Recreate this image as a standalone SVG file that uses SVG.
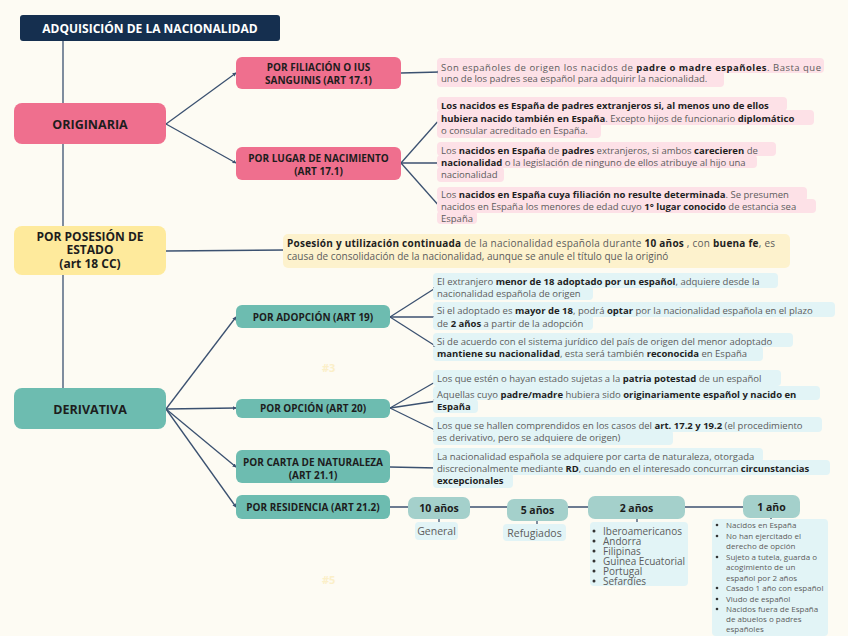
<svg xmlns="http://www.w3.org/2000/svg" width="848" height="636" viewBox="0 0 848 636">
<defs>
<style>
.t{font-family:"Open Sans","Noto Sans",sans-serif}
.conn line,.conn polyline{stroke:#3b5170;stroke-width:1.3;fill:none}
.nt{font-weight:bold;fill:#1d1d1d;text-anchor:middle;font-family:"Open Sans","Noto Sans",sans-serif}
.p{font-family:"Open Sans","Noto Sans",sans-serif;font-size:9.5px;fill:#5c5c5c}
.b{font-weight:bold;fill:#1f1f1f}
.hp{fill:#fde1e7}
.hy{fill:#fdf2cd}
.hb{fill:#e2f4f6}
.pink{fill:#ef6f8e}
.yel{fill:#feea9c}
.teal{fill:#6dbcb0}
.lt{fill:#a4d0cb}
.faint{font-family:"Open Sans",sans-serif;font-size:11px;font-weight:bold;fill:#fbefc8}
</style>
<marker id="ar" viewBox="0 0 6 6" refX="5" refY="3" markerWidth="4" markerHeight="4" markerUnits="userSpaceOnUse" orient="auto">
<path d="M0,0 L6,3 L0,6 z" fill="#3b5170"/>
</marker>
</defs>
<rect width="848" height="636" fill="#fdfbf3"/>

<g class="conn">
<line x1="63" y1="41" x2="63" y2="388"/>
<line x1="166" y1="124" x2="236" y2="73" marker-end="url(#ar)"/>
<line x1="166" y1="124" x2="236" y2="163" marker-end="url(#ar)"/>
<line x1="401" y1="73" x2="440" y2="72" marker-end="url(#ar)"/>
<line x1="401" y1="163" x2="440" y2="119" marker-end="url(#ar)"/>
<line x1="401" y1="163" x2="440" y2="163" marker-end="url(#ar)"/>
<line x1="401" y1="163" x2="440" y2="207" marker-end="url(#ar)"/>
<line x1="166" y1="251" x2="286" y2="250" marker-end="url(#ar)"/>
<line x1="166" y1="409" x2="236" y2="317" marker-end="url(#ar)"/>
<line x1="166" y1="409" x2="236" y2="408" marker-end="url(#ar)"/>
<line x1="166" y1="409" x2="236" y2="467" marker-end="url(#ar)"/>
<line x1="166" y1="409" x2="236" y2="507" marker-end="url(#ar)"/>
<line x1="390" y1="317" x2="437" y2="287" marker-end="url(#ar)"/>
<line x1="390" y1="317" x2="437" y2="317" marker-end="url(#ar)"/>
<line x1="390" y1="317" x2="437" y2="347" marker-end="url(#ar)"/>
<line x1="390" y1="408" x2="437" y2="381" marker-end="url(#ar)"/>
<line x1="390" y1="408" x2="437" y2="401" marker-end="url(#ar)"/>
<line x1="390" y1="408" x2="437" y2="431" marker-end="url(#ar)"/>
<line x1="390" y1="467" x2="437" y2="468" marker-end="url(#ar)"/>
<polyline points="390,507 743,507"/>
<line x1="439" y1="519" x2="439" y2="523"/>
<line x1="537" y1="521" x2="537" y2="527" marker-end="url(#ar)"/>
<line x1="637" y1="519" x2="637" y2="523"/>
<line x1="771" y1="518" x2="771" y2="521"/>
</g>

<g id="title">
<rect x="20" y="15" width="260" height="26" rx="3" fill="#152f4f"/>
<text x="150" y="32.5" class="nt" font-size="12" style="fill:#ffffff">ADQUISICIÓN DE LA NACIONALIDAD</text>
</g>

<g id="originaria">
<rect x="14" y="103" width="152" height="41" rx="8" class="pink"/>
<text x="90" y="128.5" class="nt" font-size="12.5">ORIGINARIA</text>
</g>
<g id="filiacion">
<rect x="236" y="57" width="165" height="32" rx="6" class="pink"/>
<text x="318.5" y="71" class="nt" font-size="10">POR FILIACIÓN O IUS</text>
<text x="318.5" y="84" class="nt" font-size="10">SANGUINIS (ART 17.1)</text>
</g>
<g id="lugar">
<rect x="236" y="147" width="165" height="33" rx="6" class="pink"/>
<text x="318.5" y="161.5" class="nt" font-size="10">POR LUGAR DE NACIMIENTO</text>
<text x="318.5" y="174.5" class="nt" font-size="10">(ART 17.1)</text>
</g>
<g id="posesion">
<rect x="14" y="226" width="152" height="49" rx="8" class="yel"/>
<text x="90" y="240.5" class="nt" font-size="12">POR POSESIÓN DE</text>
<text x="90" y="253.5" class="nt" font-size="12">ESTADO</text>
<text x="90" y="267.5" class="nt" font-size="12">(art 18 CC)</text>
</g>
<g id="derivativa">
<rect x="14" y="388" width="152" height="41" rx="8" class="teal"/>
<text x="90" y="413.5" class="nt" font-size="12.5">DERIVATIVA</text>
</g>
<g id="adopcion">
<rect x="236" y="305" width="154" height="23" rx="6" class="teal"/>
<text x="313" y="320.5" class="nt" font-size="10">POR ADOPCIÓN (ART 19)</text>
</g>
<g id="opcion">
<rect x="236" y="399" width="154" height="19" rx="6" class="teal"/>
<text x="313" y="412" class="nt" font-size="10">POR OPCIÓN (ART 20)</text>
</g>
<g id="carta">
<rect x="236" y="450" width="154" height="33" rx="6" class="teal"/>
<text x="313" y="465.5" class="nt" font-size="10">POR CARTA DE NATURALEZA</text>
<text x="313" y="478.5" class="nt" font-size="10">(ART 21.1)</text>
</g>
<g id="residencia">
<rect x="236" y="495" width="154" height="24" rx="6" class="teal"/>
<text x="313" y="510.5" class="nt" font-size="10">POR RESIDENCIA (ART 21.2)</text>
</g>

<g id="anio10">
<rect x="408" y="497" width="62" height="22" rx="7" class="lt"/>
<text x="439" y="511.5" class="nt" font-size="10.5">10 años</text>
</g>
<g id="anio5">
<rect x="507" y="499" width="61" height="22" rx="7" class="lt"/>
<text x="537.5" y="513.5" class="nt" font-size="10.5">5 años</text>
</g>
<g id="anio2">
<rect x="588" y="496" width="97" height="23" rx="7" class="lt"/>
<text x="636.5" y="511.5" class="nt" font-size="10.5">2 años</text>
</g>
<g id="anio1">
<rect x="743" y="495" width="57" height="23" rx="7" class="lt"/>
<text x="771.5" y="510.5" class="nt" font-size="10.5">1 año</text>
</g>

<g id="txt-filiacion">
<rect x="437" y="58" width="387" height="15" rx="4" class="hp"/>
<rect x="437" y="71" width="287" height="16" rx="4" class="hp"/>
<text x="441" y="70.5" class="p" textLength="380" lengthAdjust="spacing">Son españoles de origen los nacidos de <tspan class="b">padre o madre españoles</tspan>. Basta que</text>
<text x="441" y="81.5" class="p">uno de los padres sea español para adquirir la nacionalidad.</text>
</g>
<g id="txt-lugar1">
<rect x="437" y="97" width="350" height="14" rx="4" class="hp"/>
<rect x="437" y="110" width="377" height="15" rx="4" class="hp"/>
<rect x="437" y="123" width="164" height="15" rx="4" class="hp"/>
<text x="441" y="108.5" class="p"><tspan class="b">Los nacidos es España de padres extranjeros si, al menos uno de ellos</tspan></text>
<text x="441" y="121.5" class="p"><tspan class="b">hubiera nacido también en España</tspan>. Excepto hijos de funcionario <tspan class="b">diplomático</tspan></text>
<text x="441" y="133.5" class="p">o consular acreditado en España.</text>
</g>
<g id="txt-lugar2">
<rect x="437" y="142" width="339" height="14" rx="4" class="hp"/>
<rect x="437" y="155" width="320" height="13" rx="4" class="hp"/>
<rect x="437" y="167" width="67" height="15" rx="4" class="hp"/>
<text x="441" y="153.5" class="p">Los <tspan class="b">nacidos en España</tspan> de <tspan class="b">padres</tspan> extranjeros, si ambos <tspan class="b">carecieren</tspan> de</text>
<text x="441" y="165.5" class="p"><tspan class="b">nacionalidad</tspan> o la legislación de ninguno de ellos atribuye al hijo una</text>
<text x="441" y="177.5" class="p">nacionalidad</text>
</g>
<g id="txt-lugar3">
<rect x="437" y="187" width="370" height="14" rx="4" class="hp"/>
<rect x="437" y="199" width="379" height="14" rx="4" class="hp"/>
<rect x="437" y="211" width="40" height="13" rx="4" class="hp"/>
<text x="441" y="197.5" class="p">Los <tspan class="b">nacidos en España cuya filiación no resulte determinada</tspan>. Se presumen</text>
<text x="441" y="209.5" class="p">nacidos en España los menores de edad cuyo <tspan class="b">1° lugar conocido</tspan> de estancia sea</text>
<text x="441" y="221.5" class="p">España</text>
</g>
<g id="txt-posesion">
<rect x="283" y="234" width="507" height="34" rx="5" class="hy"/>
<text x="287" y="246.5" class="p" style="font-size:10px" textLength="488" lengthAdjust="spacing"><tspan class="b">Posesión y utilización continuada</tspan> de la nacionalidad española durante <tspan class="b">10 años</tspan> , con <tspan class="b">buena fe</tspan>, es</text>
<text x="287" y="259.5" class="p" style="font-size:10px">causa de consolidación de la nacionalidad, aunque se anule el título que la originó</text>
</g>
<g id="txt-adopcion1">
<rect x="433" y="273" width="345" height="15" rx="4" class="hb"/>
<rect x="433" y="286" width="160" height="14" rx="4" class="hb"/>
<text x="437" y="284.5" class="p">El extranjero <tspan class="b">menor de 18 adoptado por un español</tspan>, adquiere desde la</text>
<text x="437" y="296.5" class="p">nacionalidad española de origen</text>
</g>
<g id="txt-adopcion2">
<rect x="433" y="302" width="402" height="15" rx="4" class="hb"/>
<rect x="433" y="315" width="160" height="15" rx="4" class="hb"/>
<text x="437" y="313.5" class="p">Si el adoptado es <tspan class="b">mayor de 18</tspan>, podrá <tspan class="b">optar</tspan> por la nacionalidad española en el plazo</text>
<text x="437" y="326.5" class="p">de <tspan class="b">2 años</tspan> a partir de la adopción</text>
</g>
<g id="txt-adopcion3">
<rect x="433" y="333" width="360" height="14" rx="4" class="hb"/>
<rect x="433" y="346" width="330" height="15" rx="4" class="hb"/>
<text x="437" y="344.5" class="p">Si de acuerdo con el sistema jurídico del país de origen del menor adoptado</text>
<text x="437" y="356.5" class="p"><tspan class="b">mantiene su nacionalidad</tspan>, esta será también <tspan class="b">reconocida</tspan> en España</text>
</g>
<g id="txt-opcion1">
<rect x="433" y="370" width="348" height="16" rx="4" class="hb"/>
<text x="437" y="381.5" class="p">Los que estén o hayan estado sujetas a la <tspan class="b">patria potestad</tspan> de un español</text>
</g>
<g id="txt-opcion2">
<rect x="433" y="386" width="387" height="14" rx="4" class="hb"/>
<rect x="433" y="399" width="45" height="14" rx="4" class="hb"/>
<text x="437" y="397.5" class="p">Aquellas cuyo <tspan class="b">padre/madre</tspan> hubiera sido <tspan class="b">originariamente español y nacido en</tspan></text>
<text x="437" y="409.5" class="p"><tspan class="b">España</tspan></text>
</g>
<g id="txt-opcion3">
<rect x="433" y="417" width="389" height="15" rx="4" class="hb"/>
<rect x="433" y="430" width="240" height="15" rx="4" class="hb"/>
<text x="437" y="428.5" class="p">Los que se hallen comprendidos en los casos del <tspan class="b">art. 17.2 y 19.2</tspan> (el procedimiento</text>
<text x="437" y="440.5" class="p">es derivativo, pero se adquiere de origen)</text>
</g>
<g id="txt-carta">
<rect x="433" y="448" width="330" height="14" rx="4" class="hb"/>
<rect x="433" y="460" width="397" height="15" rx="4" class="hb"/>
<rect x="433" y="473" width="80" height="15" rx="4" class="hb"/>
<text x="437" y="459.5" class="p">La nacionalidad española se adquiere por carta de naturaleza, otorgada</text>
<text x="437" y="471.5" class="p">discrecionalmente mediante <tspan class="b">RD</tspan>, cuando en el interesado concurran <tspan class="b">circunstancias</tspan></text>
<text x="437" y="483.5" class="p"><tspan class="b">excepcionales</tspan></text>
</g>

<g id="txt-general">
<rect x="415" y="522" width="43" height="18" rx="4" class="hb"/>
<text x="436.5" y="535" class="p" text-anchor="middle" style="font-size:10.5px">General</text>
</g>
<g id="txt-refugiados">
<rect x="503" y="524" width="63" height="17" rx="4" class="hb"/>
<text x="534.5" y="536.5" class="p" text-anchor="middle" style="font-size:10.5px">Refugiados</text>
</g>
<g id="txt-2anios">
<rect x="590" y="522" width="98" height="64" rx="4" class="hb"/>
<g fill="#333"><circle cx="594" cy="531" r="1.5"/><circle cx="594" cy="541" r="1.5"/><circle cx="594" cy="551" r="1.5"/><circle cx="594" cy="561" r="1.5"/><circle cx="594" cy="571" r="1.5"/><circle cx="594" cy="581" r="1.5"/></g>
<text class="p" style="font-size:10px">
<tspan x="603" y="534.5">Iberoamericanos</tspan>
<tspan x="603" y="544.5">Andorra</tspan>
<tspan x="603" y="554.5">Filipinas</tspan>
<tspan x="603" y="564.5">Guinea Ecuatorial</tspan>
<tspan x="603" y="574.5">Portugal</tspan>
<tspan x="603" y="584.5">Sefardíes</tspan>
</text>
</g>
<g id="txt-1anio">
<rect x="712" y="519" width="116" height="117" rx="4" class="hb"/>
<g fill="#333"><circle cx="717" cy="525" r="1.3"/><circle cx="717" cy="536" r="1.3"/><circle cx="717" cy="557" r="1.3"/><circle cx="717" cy="588" r="1.3"/><circle cx="717" cy="599" r="1.3"/><circle cx="717" cy="609" r="1.3"/></g>
<text class="p" style="font-size:8px">
<tspan x="726" y="528">Nacidos en España</tspan>
<tspan x="726" y="538.5">No han ejercitado el</tspan>
<tspan x="726" y="549">derecho de opción</tspan>
<tspan x="726" y="559.5">Sujeto a tutela, guarda o</tspan>
<tspan x="726" y="570">acogimiento de un</tspan>
<tspan x="726" y="580.5">español por 2 años</tspan>
<tspan x="726" y="591">Casado 1 año con español</tspan>
<tspan x="726" y="601.5">Viudo de español</tspan>
<tspan x="726" y="612">Nacidos fuera de España</tspan>
<tspan x="726" y="622">de abuelos o padres</tspan>
<tspan x="726" y="632">españoles</tspan>
</text>
</g>
<text x="322" y="372" class="faint">#3</text>
<text x="322" y="584" class="faint">#5</text>
</svg>
